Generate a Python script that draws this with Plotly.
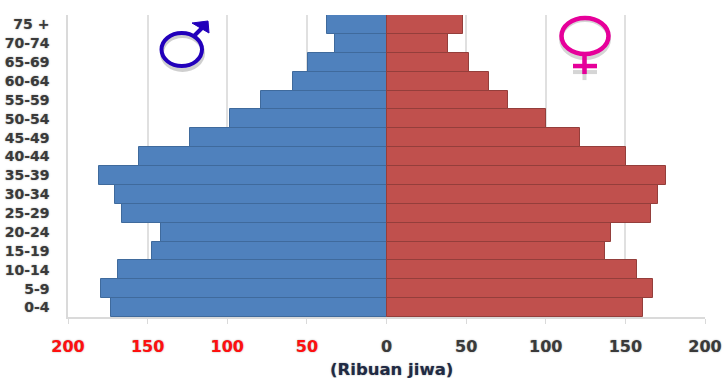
import plotly.graph_objects as go

age_groups = ["0-4", "5-9", "10-14", "15-19", "20-24", "25-29", "30-34", "35-39",
              "40-44", "45-49", "50-54", "55-59", "60-64", "65-69", "70-74", "75 +"]
male = [173.2, 179, 168.6, 147.3, 141.3, 166, 170.7, 180.8,
        155.5, 123.5, 98.4, 78.6, 58.5, 49.4, 32.5, 37.6]
female = [161, 167.6, 157, 137.1, 140.9, 166.3, 170.5, 175.8,
          150.3, 121.4, 100, 76.3, 64.6, 51.8, 38.5, 47.8]
x_ticks = [-200, -150, -100, -50, 0, 50, 100, 150, 200]
x_labels = ['<span style="color:#FF1010">200</span>', '<span style="color:#FF1010">150</span>',
            '<span style="color:#FF1010">100</span>', '<span style="color:#FF1010">50</span>',
            "0", "50", "100", "150", "200"]

W, H = 725, 378
L, R, T, B = 68, 705, 15, 316.7
FONT = "DejaVu Sans"
SOFT = "0 0 1.5px rgba(60,60,60,0.55)"


def px(x):
    return (x - L) / (R - L)


def py(y):
    return (B - y) / (B - T)


def line(x0, y0, x1, y1, color, width, opacity=1.0):
    return dict(type="line", xref="paper", yref="paper", x0=px(x0), y0=py(y0), x1=px(x1), y1=py(y1),
                line=dict(color=color, width=width), opacity=opacity)


def ring(x0, y0, x1, y1, color, width, opacity=1.0):
    return dict(type="circle", xref="paper", yref="paper", x0=px(x0), y0=py(y0), x1=px(x1), y1=py(y1),
                line=dict(color=color, width=width), opacity=opacity)


def tri(p, color, opacity=1.0):
    return dict(type="path", xref="paper", yref="paper",
                path="M {} {} L {} {} L {} {} Z".format(px(p[0][0]), py(p[0][1]), px(p[1][0]), py(p[1][1]), px(p[2][0]), py(p[2][1])),
                fillcolor=color, line=dict(color=color, width=1), opacity=opacity)


BLUE_SYM = "#2200BB"
PINK_SYM = "#E6009A"
GREY = "#8a8a8a"
shapes = [
    ring(162, 36, 203, 70, GREY, 4, 0.4),
    ring(161.5, 33, 202, 66, BLUE_SYM, 4),
    line(194, 36, 204, 26, BLUE_SYM, 4),
    tri([(192, 23), (208, 21), (209, 33)], BLUE_SYM),
    ring(561, 20, 609, 58, GREY, 4, 0.35),
    line(584.5, 58, 584.5, 80, GREY, 4, 0.35),
    line(573, 72, 597, 72, GREY, 4, 0.35),
    ring(561.5, 18, 608.5, 54, PINK_SYM, 4.5),
    line(584.5, 54, 584.5, 74, PINK_SYM, 4.5),
    line(573, 66, 597, 66, PINK_SYM, 4.5),
]

fig = go.Figure()
fig.add_trace(go.Bar(y=age_groups, x=[-v for v in male], orientation="h", name="Laki-laki",
                     marker=dict(color="#4F81BD", line=dict(color="#3F6A9C", width=1))))
fig.add_trace(go.Bar(y=age_groups, x=female, orientation="h", name="Perempuan",
                     marker=dict(color="#C0504D", line=dict(color="#943E3B", width=1))))

fig.update_layout(
    width=W, height=H, autosize=False, barmode="overlay", bargap=0, showlegend=False,
    plot_bgcolor="white", paper_bgcolor="white",
    margin=dict(l=L, r=W - R, t=T, b=H - B, pad=0),
    shapes=shapes,
    font=dict(family=FONT),
    xaxis=dict(range=[-200, 200], tickmode="array", tickvals=x_ticks, ticktext=x_labels, automargin=False,
               showgrid=True, gridcolor="#E0E0E0", gridwidth=1.5, zeroline=False,
               showline=True, linecolor="#DADADA", linewidth=1.5,
               ticks="outside", ticklen=5, tickcolor="#DADADA", tickwidth=1,
               ticklabelstandoff=9,
               tickfont=dict(family=FONT, size=16, weight="bold", color="#3A3A3A", shadow=SOFT)),
    yaxis=dict(type="category", categoryorder="array", categoryarray=age_groups, automargin=False,
               showgrid=False, zeroline=False, showline=True, linecolor="#DADADA", linewidth=1.5,
               ticks="", ticklabelstandoff=14,
               tickfont=dict(family=FONT, size=14, weight="bold", color="#3A3A3A", shadow=SOFT)),
    annotations=[dict(text="(Ribuan jiwa)", xref="paper", yref="paper", x=px(391), y=py(369),
                      xanchor="center", yanchor="middle", showarrow=False,
                      font=dict(family=FONT, size=16.5, weight="bold", color="#1F2A44", shadow=SOFT))],
)

fig.write_html("out.html", post_script="document.body.style.margin='0';",
               config={"displayModeBar": False})
